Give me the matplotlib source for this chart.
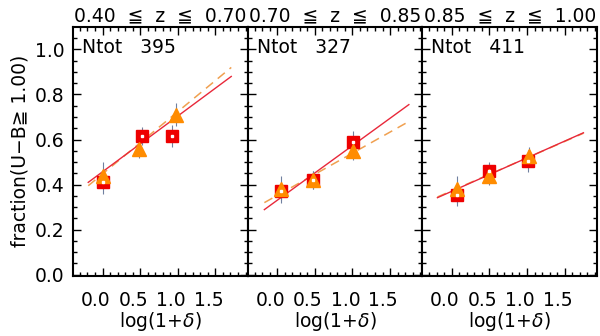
import matplotlib
matplotlib.use("Agg")
import matplotlib.pyplot as plt
import matplotlib.transforms as mtransforms
import numpy as np

plt.rcParams['font.family'] = ['DejaVu Sans', 'Noto Sans CJK JP']

# z bins and totals
z_labels = ["0.40 \u2266 z \u2266 0.70", "0.70 \u2266 z \u2266 0.85", "0.85 \u2266 z \u2266 1.00"]
ntot = [395, 327, 411]

# squares (red)
sq_x = [[0.01, 0.52, 0.92], [0.05, 0.48, 1.01], [0.07, 0.49, 1.01]]
sq_y = [[0.41, 0.615, 0.615], [0.37, 0.42, 0.59], [0.355, 0.46, 0.505]]
sq_err = [[0.05, 0.04, 0.05], [0.04, 0.04, 0.05], [0.05, 0.04, 0.05]]

# triangles (orange)
tr_x = [[0.0, 0.49, 0.97], [0.05, 0.48, 1.01], [0.07, 0.49, 1.03]]
tr_y = [[0.44, 0.56, 0.71], [0.38, 0.42, 0.55], [0.38, 0.44, 0.525]]
tr_err = [[0.06, 0.04, 0.05], [0.06, 0.04, 0.04], [0.06, 0.04, 0.04]]

# fitted lines: (x0, y0, x1, y1)
fit_solid = [(-0.19, 0.41, 1.71, 0.88), (-0.17, 0.289, 1.75, 0.755), (-0.19, 0.342, 1.75, 0.63)]
fit_dash = [(-0.19, 0.395, 1.71, 0.92), (-0.17, 0.32, 1.75, 0.68), (-0.19, 0.345, 1.75, 0.628)]

fs = 13.5

fig, axes = plt.subplots(1, 3, figsize=(6, 3.36), dpi=100, sharey=True)
fig.subplots_adjust(left=0.122, right=0.995, top=0.92, bottom=0.179, wspace=0)

for i, ax in enumerate(axes):
    s = fit_solid[i]
    d = fit_dash[i]
    ax.plot([d[0], d[2]], [d[1], d[3]], color='#f0a050', lw=1.1, ls=(0, (6, 4)), zorder=2)
    ax.plot([s[0], s[2]], [s[1], s[3]], color='#e8283a', lw=1.0, zorder=2)
    ax.errorbar(sq_x[i], sq_y[i], yerr=sq_err[i], fmt='none', ecolor='#7080a0', elinewidth=0.8, zorder=3)
    ax.errorbar(tr_x[i], tr_y[i], yerr=tr_err[i], fmt='none', ecolor='#7080a0', elinewidth=0.8, zorder=3)
    ax.plot(sq_x[i], sq_y[i], 's', color='#ee0000', ms=8.5, zorder=4)
    ax.plot(sq_x[i], sq_y[i], 's', color='white', ms=2, zorder=5)
    ax.plot(tr_x[i], tr_y[i], '^', color='#ff8c00', ms=9.5, zorder=4)

    ax.set_xlim(-0.39, 1.93)
    ax.set_ylim(-0.005, 1.10)
    ax.set_xticks([0.0, 0.5, 1.0, 1.5])
    ax.set_xticklabels(["0.0", "0.5", "1.0", "1.5"])
    ax.set_xticks(np.arange(-0.3, 1.95, 0.1), minor=True)
    ax.set_yticks([0.0, 0.2, 0.4, 0.6, 0.8, 1.0])
    ax.set_yticks(np.arange(0.0, 1.1, 0.05), minor=True)
    ax.tick_params(which='both', direction='in', top=True, right=True, labelsize=fs, width=1)
    ax.tick_params(which='major', length=6)
    ax.tick_params(which='minor', length=3)
    ax.tick_params(axis='x', pad=11)
    ax.tick_params(axis='y', pad=6)
    for sp in ax.spines.values():
        sp.set_linewidth(1.5)
    offset = mtransforms.ScaledTranslation(-0.07, 0, fig.dpi_scale_trans)
    for lab in ax.get_xticklabels():
        lab.set_transform(lab.get_transform() + offset)
    ax.set_xlabel("log(1+$\\delta$)", fontsize=fs, labelpad=0)
    ax.set_title(z_labels[i].replace(" ", "  "), fontsize=fs, pad=4)
    ax.text(0.05, 0.955, "Ntot   %d" % ntot[i], transform=ax.transAxes, fontsize=fs, va='top', ha='left')
    if i > 0:
        ax.tick_params(labelleft=False)

axes[0].set_yticklabels(["0.0", "0.2", "0.4", "0.6", "0.8", "1.0"])
axes[0].set_ylabel("fraction(U\u2212B\u2267 1.00)", fontsize=fs, labelpad=4)

fig.savefig("out.png")
